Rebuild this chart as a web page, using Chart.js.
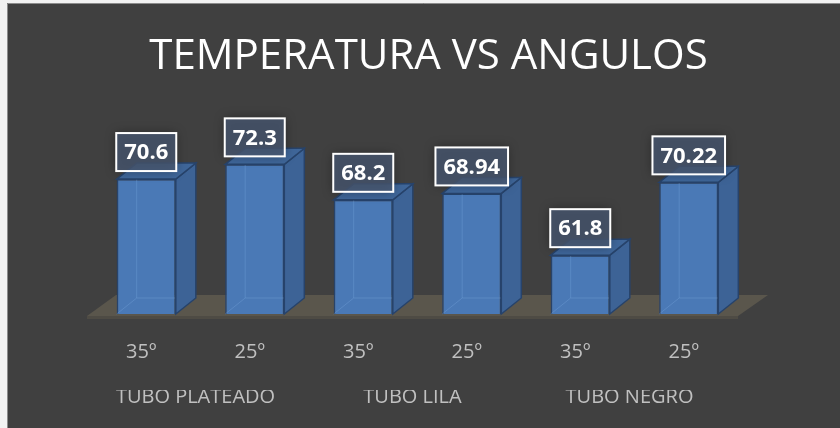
<!DOCTYPE html>
<html>
<head>
<meta charset="utf-8">
<script src="https://cdn.jsdelivr.net/npm/chart.js@4/dist/chart.umd.min.js"></script>
<style>
  html, body { margin: 0; padding: 0; background: #f2f2f2; }
  canvas { display: block; }
</style>
</head>
<body>
<canvas id="tempChart" width="840" height="428"></canvas>
<script>
const titulo = "TEMPERATURA VS ANGULOS";
const grupos = ["TUBO PLATEADO", "TUBO LILA", "TUBO NEGRO"];
const angulos = ["35º", "25º", "35º", "25º", "35º", "25º"];
const temperaturas = [70.6, 72.3, 68.2, 68.94, 61.8, 70.22];

// 3d look of the excel chart
const DEPTH_X = 20;
const DEPTH_Y = 16;

const framePlugin = {
  id: "frame",
  beforeDraw(chart) {
    const ctx = chart.ctx;
    ctx.save();
    ctx.fillStyle = "#f2f2f2";
    ctx.fillRect(0, 0, chart.width, chart.height);
    ctx.fillStyle = "#404040";
    ctx.fillRect(7, 3, chart.width - 7, chart.height - 3);
    ctx.strokeStyle = "#8c8c8c";
    ctx.lineWidth = 1;
    ctx.beginPath();
    ctx.moveTo(7.5, chart.height);
    ctx.lineTo(7.5, 3.5);
    ctx.lineTo(chart.width, 3.5);
    ctx.stroke();

    // title sits centred on the whole frame, not the plot
    ctx.fillStyle = "#ffffff";
    ctx.font = "42px 'Open Sans', sans-serif";
    ctx.textAlign = "center";
    ctx.textBaseline = "middle";
    ctx.fillText(titulo, (7 + chart.width) / 2 + 5, 57);
    ctx.restore();
  },
};

const floorPlugin = {
  id: "floor",
  beforeDatasetsDraw(chart) {
    const { ctx, chartArea } = chart;
    const b = chart.scales.y.getPixelForValue(chart.scales.y.min);
    const l = chartArea.left;
    const r = chartArea.right;
    ctx.save();
    ctx.fillStyle = "#5a564c";
    ctx.beginPath();
    ctx.moveTo(l - 5, b + 2);
    ctx.lineTo(r - 5, b + 2);
    ctx.lineTo(r + 25, b - 19);
    ctx.lineTo(l + 24, b - 19);
    ctx.closePath();
    ctx.fill();
    ctx.fillStyle = "#4e4b44";
    ctx.fillRect(l - 5, b + 2, r - l, 3);
    ctx.restore();
  },
};

const barSidesPlugin = {
  id: "barSides",
  afterDatasetsDraw(chart) {
    const ctx = chart.ctx;
    const meta = chart.getDatasetMeta(0);
    const base = chart.scales.y.getPixelForValue(chart.scales.y.min);
    ctx.save();
    meta.data.forEach((bar) => {
      const { x, y, width } = bar.getProps(["x", "y", "width"], true);
      const l = x - width / 2;
      const r = x + width / 2;

      // faint hidden edges (bars are a bit see-through)
      ctx.strokeStyle = "rgba(120, 165, 220, 0.35)";
      ctx.lineWidth = 1;
      ctx.beginPath();
      ctx.moveTo(l, base);
      ctx.lineTo(l + DEPTH_X, base - DEPTH_Y);
      ctx.lineTo(l + DEPTH_X, y - DEPTH_Y);
      ctx.moveTo(l + DEPTH_X, base - DEPTH_Y);
      ctx.lineTo(r + DEPTH_X, base - DEPTH_Y);
      ctx.stroke();

      // side face
      ctx.fillStyle = "#3d6396";
      ctx.strokeStyle = "#27436b";
      ctx.lineWidth = 1.5;
      ctx.beginPath();
      ctx.moveTo(r, base);
      ctx.lineTo(r + DEPTH_X, base - DEPTH_Y);
      ctx.lineTo(r + DEPTH_X, y - DEPTH_Y);
      ctx.lineTo(r, y);
      ctx.closePath();
      ctx.fill();
      ctx.stroke();

      // top face
      ctx.fillStyle = "#3f6699";
      ctx.beginPath();
      ctx.moveTo(l, y);
      ctx.lineTo(l + DEPTH_X, y - DEPTH_Y);
      ctx.lineTo(r + DEPTH_X, y - DEPTH_Y);
      ctx.lineTo(r, y);
      ctx.closePath();
      ctx.fill();
      ctx.stroke();
    });
    ctx.restore();
  },
};

const valueBoxPlugin = {
  id: "valueBox",
  afterDatasetsDraw(chart) {
    const ctx = chart.ctx;
    const meta = chart.getDatasetMeta(0);
    ctx.save();
    ctx.font = "bold 22px 'Open Sans', sans-serif";
    ctx.textAlign = "center";
    ctx.textBaseline = "middle";
    meta.data.forEach((bar, i) => {
      const { x, y } = bar.getProps(["x", "y"], true);
      const text = String(temperaturas[i]);
      const w = ctx.measureText(text).width + 16;
      const h = 38;
      const top = y - 8 - h;
      ctx.save();
      ctx.shadowColor = "rgba(0, 0, 0, 0.45)";
      ctx.shadowBlur = 10;
      ctx.fillStyle = "rgba(72, 88, 112, 0.8)";
      ctx.fillRect(x - w / 2, top, w, h);
      ctx.restore();
      ctx.strokeStyle = "#ffffff";
      ctx.lineWidth = 2;
      ctx.strokeRect(x - w / 2, top, w, h);
      ctx.fillStyle = "#ffffff";
      ctx.fillText(text, x, top + h / 2 + 1);
    });
    ctx.restore();
  },
};

new Chart(document.getElementById("tempChart"), {
  type: "bar",
  data: {
    labels: angulos,
    datasets: [
      {
        label: "Temperatura",
        data: temperaturas,
        backgroundColor: "#4a79b6",
        borderColor: "#27436b",
        borderWidth: 1.5,
        barPercentage: 0.545,
        categoryPercentage: 1,
      },
    ],
  },
  options: {
    responsive: false,
    animation: false,
    devicePixelRatio: 1,
    layout: { padding: { top: 141, left: 92, right: 97, bottom: 24 } },
    plugins: {
      legend: { display: false },
      tooltip: { enabled: false },
      title: { display: false },
    },
    scales: {
      y: { display: false, min: 55, max: 75 },
      x: {
        grid: { display: false, drawTicks: false },
        border: { display: false },
        ticks: {
          color: "#c0c0c0",
          padding: 26,
          labelOffset: -5,
          font: { family: "'Open Sans', sans-serif", size: 20 },
        },
      },
      x2: {
        type: "category",
        labels: grupos,
        position: "bottom",
        offset: true,
        grid: { display: false, drawTicks: false },
        border: { display: false },
        ticks: {
          color: "#c0c0c0",
          padding: -5,
          labelOffset: -5,
          font: { family: "'Open Sans', sans-serif", size: 20 },
        },
      },
    },
  },
  plugins: [framePlugin, floorPlugin, barSidesPlugin, valueBoxPlugin],
});
</script>
</body>
</html>
